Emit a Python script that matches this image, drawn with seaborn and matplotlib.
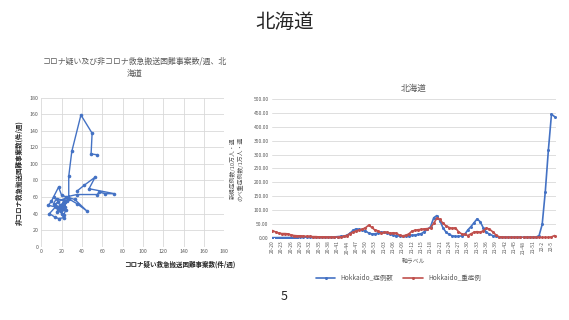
import numpy as np
import pandas as pd
import matplotlib
matplotlib.use("Agg")
import matplotlib.pyplot as plt
from matplotlib.lines import Line2D
import seaborn as sns

sns.set_style("white")
plt.rcParams['font.family'] = ['Noto Sans CJK JP', 'DejaVu Sans']
plt.rcParams['axes.unicode_minus'] = False

BLUE = "#4472C4"
RED = "#C0504D"
GRID = "#D9D9D9"
TICK = "#595959"

# ---- 左：コロナ疑い vs 非コロナ 救急搬送困難事案数（週ごとの軌跡） ----
corona_susp = [35, 42, 53, 47, 72, 63, 57, 55, 35, 24, 35, 45, 33, 20, 17, 12, 10, 7,
               14, 8, 13, 17, 22, 20, 16, 18, 25, 20, 15, 24, 22, 18, 12, 15, 22, 19,
               23, 26, 16, 13, 21, 27, 27, 30, 39, 50, 49, 55]
non_corona = [67, 74, 84, 70, 64, 64, 66, 63, 63, 60, 52, 43, 57, 62, 72, 60, 55, 50,
              48, 40, 36, 34, 35, 40, 45, 50, 55, 50, 42, 44, 38, 47, 52, 58, 56, 44,
              48, 60, 54, 50, 46, 58, 85, 115, 159, 137, 112, 111]

# ---- 右：北海道 新規症例数 / 重症例数 ----
weeks = ([f"20-{w}" for w in range(20, 54)] + [f"21-{w:02d}" for w in range(1, 53)]
         + [f"22-{w}" for w in range(1, 7)])
cases = [0.5, 0.5, 0.6, 0.7, 0.8, 0.8, 0.9, 0.9, 0.9, 1, 1, 1, 1.2, 1.3, 1.5, 1.6, 1.8, 2,
         2.2, 2.5,
         3, 4, 5, 6, 9, 16, 27, 32, 30, 27, 25, 17, 14, 14, 17, 20, 19, 18, 13, 9,
         7, 6, 6, 7, 8, 9, 10, 12, 15, 22, 30, 40, 72, 80, 62, 36, 20, 12, 7, 5,
         5, 7, 12, 28, 40, 54, 68, 58, 36, 20, 13, 8, 5, 3, 2.5,
         2, 2, 2, 2, 2, 2, 2, 2, 2, 2, 2,
         8, 48, 166, 317, 446, 437]
severe = [26, 21, 17, 15, 15, 14, 10, 8, 7, 7, 6, 5, 5, 4, 4, 3, 3, 3, 2, 2,
          2, 2, 3, 5, 8, 15, 20, 25, 28, 31, 36, 45, 38, 28, 25, 18, 19, 20, 16, 18,
          16, 9, 7, 9, 14, 24, 27, 29, 30, 32, 33, 36, 52, 70, 66, 52, 43, 37, 34, 36,
          22, 14, 12, 8, 14, 20, 22, 20, 25, 35, 31, 22, 11, 4, 2,
          1, 1, 1, 1, 1, 1, 1, 1, 1, 1, 1, 1, 1, 1, 1,
          3, 8]

df_sc = pd.DataFrame({'x': corona_susp, 'y': non_corona})
df_ts = pd.DataFrame({'idx': list(range(len(weeks))) * 2,
                      'val': cases + severe,
                      'series': ['Hokkaido_症例数'] * len(weeks) + ['Hokkaido_重症例'] * len(weeks)})

fig = plt.figure(figsize=(5.69, 3.2), dpi=100)
fig.patch.set_facecolor("white")

fig.text(0.5, 0.93, "北海道", ha='center', va='center', fontsize=14)
fig.text(0.5, 0.075, "5", ha='center', va='center', fontsize=9)

# 左のグラフ
ax1 = fig.add_axes([0.0726, 0.229, 0.3214, 0.466])
sns.lineplot(data=df_sc, x='x', y='y', sort=False, estimator=None, ax=ax1,
             color=BLUE, linewidth=1.0, marker='o', markersize=2.6,
             markeredgewidth=0)
ax1.set_xlim(0, 180)
ax1.set_ylim(0, 180)
ax1.set_xticks(range(0, 181, 20))
ax1.set_yticks(range(0, 181, 20))
ax1.grid(True, color=GRID, linewidth=0.6)
for s in ax1.spines.values():
    s.set_visible(False)
ax1.tick_params(labelsize=3.8, colors=TICK, length=0, pad=2)
ax1.set_xlabel("")
ax1.set_ylabel("非コロナ救急搬送困難事案数(件/週)", fontsize=4.7, fontweight='bold',
               labelpad=5)
fig.text(0.315, 0.175, "コロナ疑い救急搬送困難事案数(件/週)", ha='center', va='center',
         fontsize=4.7, fontweight='bold')
fig.text(0.237, 0.79, "コロナ疑い及び非コロナ救急搬送困難事案数/週、北\n海道",
         ha='center', va='center', fontsize=5.7, color=TICK, linespacing=1.5)

# 右のグラフ
ax2 = fig.add_axes([0.4772, 0.257, 0.4991, 0.433])
sns.lineplot(data=df_ts, x='idx', y='val', hue='series', palette=[BLUE, RED],
             estimator=None, ax=ax2, linewidth=1.2, marker='o', markersize=2.2,
             markeredgewidth=0, legend=False)
ax2.set_xlim(-0.3, len(weeks) - 0.7)
ax2.set_ylim(0, 500)
ax2.set_yticks(range(0, 501, 50))
ax2.set_yticklabels([f"{v:.2f}" for v in range(0, 501, 50)])
tick_idx = list(range(0, len(weeks), 3))
ax2.set_xticks(tick_idx)
ax2.set_xticklabels([weeks[i] for i in tick_idx], rotation=90)
ax2.grid(True, axis='y', color=GRID, linewidth=0.6)
ax2.grid(False, axis='x')
for s in ax2.spines.values():
    s.set_visible(False)
ax2.tick_params(labelsize=3.6, colors=TICK, length=0, pad=2)
ax2.set_xlabel("軸ラベル", fontsize=4.2, color=TICK, labelpad=3)
ax2.set_ylabel("新規症例数/10万人・週\nのべ重症例数/1万人・週", fontsize=4.2,
               color=TICK, labelpad=7, linespacing=1.4)
ax2.set_title("北海道", fontsize=6.2, color=TICK, pad=6)

handles = [Line2D([], [], color=BLUE, marker='o', markersize=2.2, linewidth=1.2,
                  markeredgewidth=0),
           Line2D([], [], color=RED, marker='o', markersize=2.2, linewidth=1.2,
                  markeredgewidth=0)]
fig.legend(handles, ['Hokkaido_症例数', 'Hokkaido_重症例'], loc='center',
           bbox_to_anchor=(0.70, 0.13), ncol=2, frameon=False, fontsize=4.7,
           handlelength=3, columnspacing=1.5, labelcolor=TICK)

fig.savefig("out.png", dpi=100, facecolor="white")
